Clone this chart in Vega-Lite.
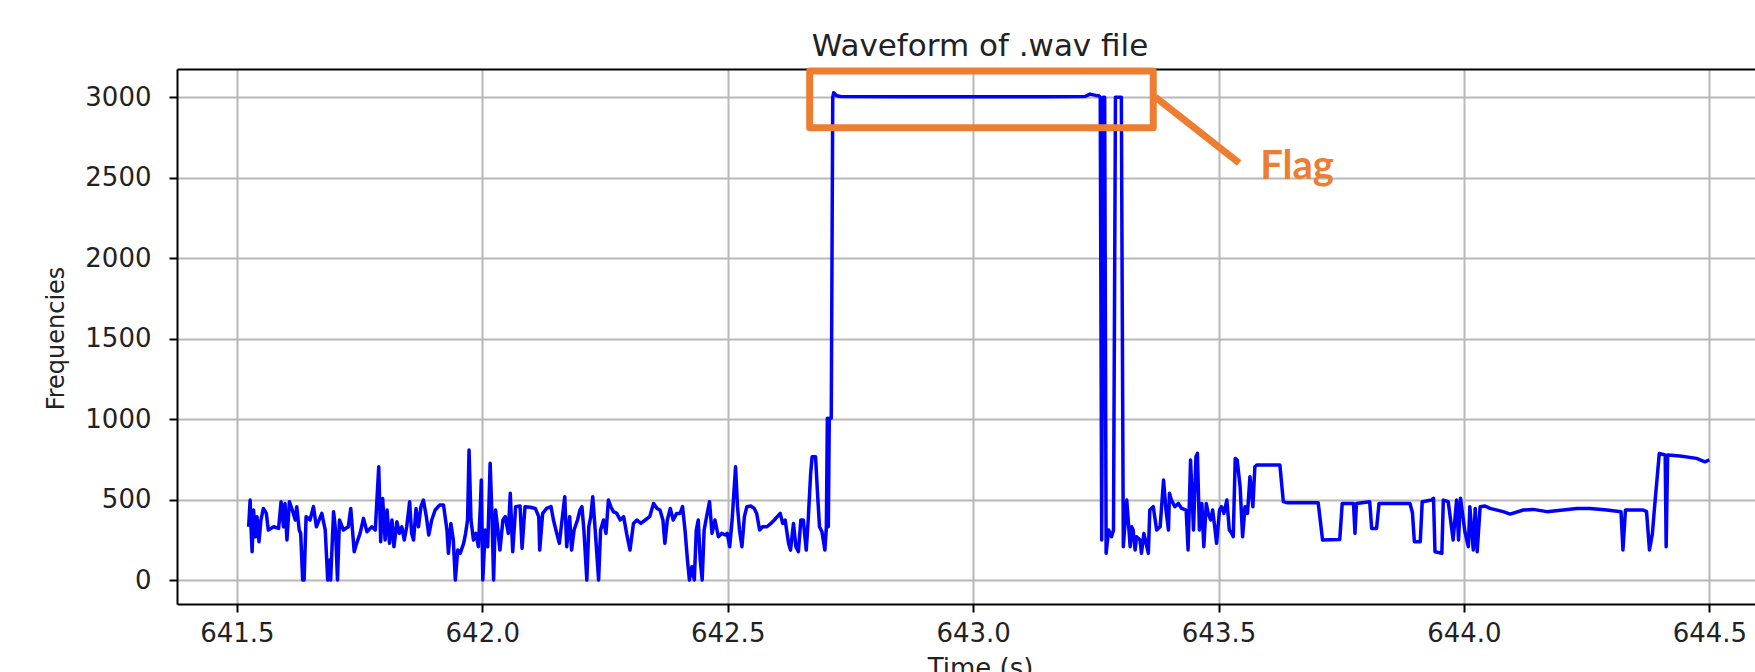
{
  "$schema": "https://vega.github.io/schema/vega-lite/v6.json",
  "width": 1578,
  "height": 535,
  "autosize": {"type": "none"},
  "padding": {"left": 177, "top": 69, "right": 0, "bottom": 68},
  "background": "white",
  "title": {"text": "Waveform of .wav file", "font": "DejaVu Sans", "fontSize": 31, "fontWeight": "normal", "color": "#222222", "anchor": "middle", "frame": "group", "baseline": "alphabetic", "offset": 14, "dx": 14, "dy": 33},
  "datasets": {
    "wave": [
      {"time": 641.524, "freq": 331}, {"time": 641.527, "freq": 497}, {"time": 641.529, "freq": 311}, {"time": 641.531, "freq": 176},
      {"time": 641.534, "freq": 435}, {"time": 641.538, "freq": 269}, {"time": 641.541, "freq": 394}, {"time": 641.545, "freq": 238},
      {"time": 641.549, "freq": 373}, {"time": 641.554, "freq": 445}, {"time": 641.560, "freq": 414}, {"time": 641.564, "freq": 311},
      {"time": 641.575, "freq": 331}, {"time": 641.585, "freq": 321}, {"time": 641.590, "freq": 487}, {"time": 641.595, "freq": 331},
      {"time": 641.598, "freq": 476}, {"time": 641.602, "freq": 249}, {"time": 641.607, "freq": 487}, {"time": 641.614, "freq": 425},
      {"time": 641.619, "freq": 373}, {"time": 641.622, "freq": 456}, {"time": 641.627, "freq": 311}, {"time": 641.630, "freq": 290},
      {"time": 641.634, "freq": 0}, {"time": 641.637, "freq": 0}, {"time": 641.641, "freq": 394}, {"time": 641.649, "freq": 373},
      {"time": 641.656, "freq": 456}, {"time": 641.662, "freq": 331}, {"time": 641.666, "freq": 362}, {"time": 641.673, "freq": 414},
      {"time": 641.680, "freq": 311}, {"time": 641.685, "freq": 0}, {"time": 641.689, "freq": 124}, {"time": 641.691, "freq": 0},
      {"time": 641.697, "freq": 425}, {"time": 641.701, "freq": 311}, {"time": 641.705, "freq": 0}, {"time": 641.709, "freq": 373},
      {"time": 641.717, "freq": 311}, {"time": 641.727, "freq": 331}, {"time": 641.732, "freq": 445}, {"time": 641.739, "freq": 176},
      {"time": 641.744, "freq": 228}, {"time": 641.751, "freq": 290}, {"time": 641.758, "freq": 383}, {"time": 641.765, "freq": 300},
      {"time": 641.775, "freq": 331}, {"time": 641.782, "freq": 311}, {"time": 641.789, "freq": 704}, {"time": 641.793, "freq": 238},
      {"time": 641.797, "freq": 507}, {"time": 641.802, "freq": 249}, {"time": 641.806, "freq": 435}, {"time": 641.811, "freq": 228},
      {"time": 641.816, "freq": 373}, {"time": 641.820, "freq": 207}, {"time": 641.826, "freq": 362}, {"time": 641.831, "freq": 290},
      {"time": 641.836, "freq": 331}, {"time": 641.841, "freq": 249}, {"time": 641.846, "freq": 331}, {"time": 641.852, "freq": 487},
      {"time": 641.856, "freq": 290}, {"time": 641.860, "freq": 249}, {"time": 641.865, "freq": 445}, {"time": 641.870, "freq": 331},
      {"time": 641.875, "freq": 456}, {"time": 641.880, "freq": 497}, {"time": 641.886, "freq": 394}, {"time": 641.891, "freq": 280},
      {"time": 641.897, "freq": 373}, {"time": 641.904, "freq": 435}, {"time": 641.913, "freq": 466}, {"time": 641.921, "freq": 466},
      {"time": 641.928, "freq": 311}, {"time": 641.931, "freq": 166}, {"time": 641.936, "freq": 352}, {"time": 641.941, "freq": 249},
      {"time": 641.945, "freq": 0}, {"time": 641.950, "freq": 186}, {"time": 641.955, "freq": 166}, {"time": 641.962, "freq": 228},
      {"time": 641.966, "freq": 290}, {"time": 641.970, "freq": 373}, {"time": 641.973, "freq": 808}, {"time": 641.977, "freq": 373},
      {"time": 641.982, "freq": 249}, {"time": 641.987, "freq": 290}, {"time": 641.992, "freq": 207}, {"time": 641.996, "freq": 456},
      {"time": 641.998, "freq": 621}, {"time": 642.001, "freq": 0}, {"time": 642.006, "freq": 311}, {"time": 642.011, "freq": 207},
      {"time": 642.016, "freq": 725}, {"time": 642.020, "freq": 373}, {"time": 642.023, "freq": 0}, {"time": 642.027, "freq": 435},
      {"time": 642.031, "freq": 331}, {"time": 642.036, "freq": 186}, {"time": 642.042, "freq": 373}, {"time": 642.047, "freq": 394},
      {"time": 642.053, "freq": 290}, {"time": 642.057, "freq": 539}, {"time": 642.062, "freq": 176}, {"time": 642.068, "freq": 456},
      {"time": 642.077, "freq": 460}, {"time": 642.081, "freq": 197}, {"time": 642.087, "freq": 456}, {"time": 642.098, "freq": 452},
      {"time": 642.108, "freq": 445}, {"time": 642.115, "freq": 394}, {"time": 642.117, "freq": 186}, {"time": 642.123, "freq": 414},
      {"time": 642.131, "freq": 445}, {"time": 642.140, "freq": 456}, {"time": 642.145, "freq": 373}, {"time": 642.150, "freq": 311},
      {"time": 642.157, "freq": 228}, {"time": 642.164, "freq": 414}, {"time": 642.168, "freq": 518}, {"time": 642.172, "freq": 207},
      {"time": 642.178, "freq": 394}, {"time": 642.182, "freq": 186}, {"time": 642.187, "freq": 311}, {"time": 642.194, "freq": 373},
      {"time": 642.199, "freq": 435}, {"time": 642.203, "freq": 456}, {"time": 642.207, "freq": 311}, {"time": 642.213, "freq": 0},
      {"time": 642.217, "freq": 331}, {"time": 642.221, "freq": 394}, {"time": 642.225, "freq": 518}, {"time": 642.230, "freq": 311},
      {"time": 642.237, "freq": 0}, {"time": 642.241, "freq": 311}, {"time": 642.247, "freq": 373}, {"time": 642.252, "freq": 290},
      {"time": 642.257, "freq": 497}, {"time": 642.262, "freq": 456}, {"time": 642.267, "freq": 425}, {"time": 642.274, "freq": 414},
      {"time": 642.281, "freq": 373}, {"time": 642.288, "freq": 394}, {"time": 642.294, "freq": 290}, {"time": 642.301, "freq": 186},
      {"time": 642.308, "freq": 352}, {"time": 642.315, "freq": 373}, {"time": 642.323, "freq": 352}, {"time": 642.332, "freq": 373},
      {"time": 642.341, "freq": 394}, {"time": 642.349, "freq": 476}, {"time": 642.356, "freq": 445}, {"time": 642.362, "freq": 435},
      {"time": 642.368, "freq": 373}, {"time": 642.372, "freq": 228}, {"time": 642.377, "freq": 373}, {"time": 642.383, "freq": 445},
      {"time": 642.389, "freq": 373}, {"time": 642.396, "freq": 414}, {"time": 642.403, "freq": 414}, {"time": 642.408, "freq": 456},
      {"time": 642.413, "freq": 311}, {"time": 642.418, "freq": 124}, {"time": 642.422, "freq": 0}, {"time": 642.427, "freq": 83},
      {"time": 642.432, "freq": 0}, {"time": 642.436, "freq": 311}, {"time": 642.440, "freq": 373}, {"time": 642.444, "freq": 124},
      {"time": 642.448, "freq": 0}, {"time": 642.452, "freq": 311}, {"time": 642.457, "freq": 394}, {"time": 642.463, "freq": 487},
      {"time": 642.468, "freq": 290}, {"time": 642.474, "freq": 373}, {"time": 642.481, "freq": 269}, {"time": 642.488, "freq": 290},
      {"time": 642.495, "freq": 280}, {"time": 642.499, "freq": 290}, {"time": 642.504, "freq": 207}, {"time": 642.509, "freq": 373},
      {"time": 642.516, "freq": 704}, {"time": 642.520, "freq": 456}, {"time": 642.524, "freq": 311}, {"time": 642.529, "freq": 207},
      {"time": 642.534, "freq": 394}, {"time": 642.539, "freq": 456}, {"time": 642.547, "freq": 460}, {"time": 642.554, "freq": 445},
      {"time": 642.559, "freq": 414}, {"time": 642.565, "freq": 311}, {"time": 642.571, "freq": 331}, {"time": 642.580, "freq": 331},
      {"time": 642.588, "freq": 352}, {"time": 642.595, "freq": 373}, {"time": 642.601, "freq": 394}, {"time": 642.607, "freq": 414},
      {"time": 642.612, "freq": 352}, {"time": 642.617, "freq": 373}, {"time": 642.624, "freq": 228}, {"time": 642.628, "freq": 186},
      {"time": 642.634, "freq": 352}, {"time": 642.639, "freq": 207}, {"time": 642.644, "freq": 176}, {"time": 642.649, "freq": 373},
      {"time": 642.654, "freq": 373}, {"time": 642.660, "freq": 186}, {"time": 642.664, "freq": 373}, {"time": 642.669, "freq": 663},
      {"time": 642.672, "freq": 766}, {"time": 642.679, "freq": 766}, {"time": 642.683, "freq": 539}, {"time": 642.687, "freq": 331},
      {"time": 642.692, "freq": 300}, {"time": 642.698, "freq": 186}, {"time": 642.701, "freq": 331}, {"time": 642.703, "freq": 1005},
      {"time": 642.705, "freq": 331}, {"time": 642.707, "freq": 1005}, {"time": 642.711, "freq": 1005}, {"time": 642.714, "freq": 3000},
      {"time": 642.716, "freq": 3029}, {"time": 642.722, "freq": 3010}, {"time": 642.730, "freq": 3005}, {"time": 642.850, "freq": 3004},
      {"time": 643.000, "freq": 3003}, {"time": 643.150, "freq": 3003}, {"time": 643.228, "freq": 3005}, {"time": 643.238, "freq": 3020},
      {"time": 643.250, "freq": 3012}, {"time": 643.256, "freq": 3010}, {"time": 643.259, "freq": 3000}, {"time": 643.262, "freq": 249},
      {"time": 643.265, "freq": 3000}, {"time": 643.268, "freq": 3000}, {"time": 643.271, "freq": 166}, {"time": 643.276, "freq": 311},
      {"time": 643.282, "freq": 269}, {"time": 643.286, "freq": 311}, {"time": 643.290, "freq": 3000}, {"time": 643.302, "freq": 3000},
      {"time": 643.306, "freq": 207}, {"time": 643.313, "freq": 497}, {"time": 643.320, "freq": 207}, {"time": 643.323, "freq": 331},
      {"time": 643.326, "freq": 311}, {"time": 643.330, "freq": 187}, {"time": 643.333, "freq": 269}, {"time": 643.340, "freq": 249},
      {"time": 643.343, "freq": 166}, {"time": 643.348, "freq": 290}, {"time": 643.354, "freq": 207}, {"time": 643.357, "freq": 166},
      {"time": 643.360, "freq": 435}, {"time": 643.367, "freq": 456}, {"time": 643.374, "freq": 311}, {"time": 643.381, "freq": 331},
      {"time": 643.388, "freq": 621}, {"time": 643.393, "freq": 435}, {"time": 643.398, "freq": 311}, {"time": 643.400, "freq": 539},
      {"time": 643.404, "freq": 497}, {"time": 643.411, "freq": 456}, {"time": 643.418, "freq": 476}, {"time": 643.425, "freq": 445},
      {"time": 643.434, "freq": 435}, {"time": 643.438, "freq": 187}, {"time": 643.443, "freq": 746}, {"time": 643.449, "freq": 311},
      {"time": 643.454, "freq": 766}, {"time": 643.457, "freq": 787}, {"time": 643.461, "freq": 311}, {"time": 643.466, "freq": 476},
      {"time": 643.470, "freq": 207}, {"time": 643.475, "freq": 476}, {"time": 643.479, "freq": 414}, {"time": 643.484, "freq": 373},
      {"time": 643.488, "freq": 435}, {"time": 643.493, "freq": 311}, {"time": 643.496, "freq": 228}, {"time": 643.502, "freq": 435},
      {"time": 643.506, "freq": 456}, {"time": 643.511, "freq": 414}, {"time": 643.517, "freq": 497}, {"time": 643.522, "freq": 311},
      {"time": 643.527, "freq": 290}, {"time": 643.530, "freq": 269}, {"time": 643.534, "freq": 756}, {"time": 643.538, "freq": 746},
      {"time": 643.544, "freq": 580}, {"time": 643.549, "freq": 269}, {"time": 643.554, "freq": 456}, {"time": 643.559, "freq": 414},
      {"time": 643.564, "freq": 642}, {"time": 643.570, "freq": 456}, {"time": 643.574, "freq": 704}, {"time": 643.578, "freq": 715},
      {"time": 643.625, "freq": 715}, {"time": 643.632, "freq": 487}, {"time": 643.639, "freq": 481}, {"time": 643.703, "freq": 481},
      {"time": 643.712, "freq": 249}, {"time": 643.747, "freq": 252}, {"time": 643.752, "freq": 476}, {"time": 643.775, "freq": 476},
      {"time": 643.778, "freq": 290}, {"time": 643.781, "freq": 476}, {"time": 643.808, "freq": 487}, {"time": 643.812, "freq": 321},
      {"time": 643.822, "freq": 321}, {"time": 643.827, "freq": 476}, {"time": 643.870, "freq": 476}, {"time": 643.890, "freq": 476},
      {"time": 643.895, "freq": 420}, {"time": 643.899, "freq": 238}, {"time": 643.911, "freq": 238}, {"time": 643.915, "freq": 487},
      {"time": 643.934, "freq": 497}, {"time": 643.938, "freq": 508}, {"time": 643.941, "freq": 176}, {"time": 643.955, "freq": 166},
      {"time": 643.958, "freq": 497}, {"time": 643.968, "freq": 487}, {"time": 643.978, "freq": 249}, {"time": 643.985, "freq": 497},
      {"time": 643.989, "freq": 249}, {"time": 643.993, "freq": 508}, {"time": 644.002, "freq": 300}, {"time": 644.009, "freq": 207},
      {"time": 644.012, "freq": 456}, {"time": 644.019, "freq": 187}, {"time": 644.023, "freq": 445}, {"time": 644.027, "freq": 176},
      {"time": 644.033, "freq": 456}, {"time": 644.043, "freq": 460}, {"time": 644.053, "freq": 445}, {"time": 644.080, "freq": 425},
      {"time": 644.094, "freq": 410}, {"time": 644.121, "freq": 435}, {"time": 644.141, "freq": 439}, {"time": 644.169, "freq": 425},
      {"time": 644.202, "freq": 435}, {"time": 644.230, "freq": 445}, {"time": 644.257, "freq": 445}, {"time": 644.291, "freq": 435},
      {"time": 644.320, "freq": 425}, {"time": 644.324, "freq": 187}, {"time": 644.329, "freq": 435}, {"time": 644.365, "freq": 435},
      {"time": 644.372, "freq": 425}, {"time": 644.378, "freq": 187}, {"time": 644.384, "freq": 290}, {"time": 644.388, "freq": 440},
      {"time": 644.398, "freq": 787}, {"time": 644.404, "freq": 782}, {"time": 644.410, "freq": 777}, {"time": 644.412, "freq": 207},
      {"time": 644.415, "freq": 777}, {"time": 644.440, "freq": 771}, {"time": 644.474, "freq": 756}, {"time": 644.491, "freq": 735},
      {"time": 644.500, "freq": 746}
    ],
    "box": [{"t1": 642.667, "t2": 643.367, "f1": 2811, "f2": 3163}],
    "arrow": [{"t1": 643.371, "f1": 3002, "t2": 643.542, "f2": 2592}],
    "label": [{"t": 643.585, "f": 2492, "text": "Flag"}]
  },
  "layer": [
    {
      "data": {"name": "wave"},
      "mark": {"type": "line", "color": "#0000ff", "strokeWidth": 3.5, "strokeJoin": "round", "clip": true},
      "encoding": {
        "x": {"field": "time", "type": "quantitative",
          "scale": {"domain": [641.378, 644.593], "nice": false, "zero": false},
          "axis": {"orient": "bottom", "values": [641.5, 642, 642.5, 643, 643.5, 644, 644.5], "format": ".1f",
            "title": "Time (s)", "titleX": 803, "titleY": 72, "titleBaseline": "alphabetic", "titleFontSize": 26,
            "labelBaseline": "alphabetic", "labelPadding": 29, "labelFlush": false, "labelOverlap": false, "grid": true}},
        "y": {"field": "freq", "type": "quantitative", "title": "Frequencies",
          "scale": {"domain": [-149, 3176], "nice": false, "zero": false},
          "axis": {"values": [0, 500, 1000, 1500, 2000, 2500, 3000], "format": "d",
            "titleX": -114, "titleY": 269, "titleAngle": 270, "titleBaseline": "alphabetic", "titleAlign": "center", "titleFontSize": 24,
            "labelPadding": 18, "labelBaseline": "middle", "labelFlush": false, "labelOverlap": false, "grid": true}}
      }
    },
    {
      "data": {"name": "box"},
      "mark": {"type": "rect", "fillOpacity": 0, "stroke": "#ED7D31", "strokeWidth": 7, "strokeJoin": "round"},
      "encoding": {
        "x": {"field": "t1", "type": "quantitative", "scale": {"domain": [641.378, 644.593], "nice": false, "zero": false},
          "axis": {"orient": "top", "labels": false, "ticks": false, "grid": false, "title": null, "domain": true}},
        "x2": {"field": "t2"},
        "y": {"field": "f1", "type": "quantitative", "title": "Frequencies", "scale": {"domain": [-149, 3176], "nice": false, "zero": false}},
        "y2": {"field": "f2"}
      }
    },
    {
      "data": {"name": "arrow"},
      "mark": {"type": "rule", "color": "#ED7D31", "strokeWidth": 7, "strokeCap": "butt"},
      "encoding": {
        "x": {"field": "t1", "type": "quantitative", "scale": {"domain": [641.378, 644.593], "nice": false, "zero": false}, "axis": null},
        "x2": {"field": "t2"},
        "y": {"field": "f1", "type": "quantitative", "title": "Frequencies", "scale": {"domain": [-149, 3176], "nice": false, "zero": false}},
        "y2": {"field": "f2"}
      }
    },
    {
      "data": {"name": "label"},
      "mark": {"type": "text", "font": "Lato", "fontWeight": "bold", "fontSize": 40, "color": "#ED7D31", "align": "left", "baseline": "alphabetic"},
      "encoding": {
        "x": {"field": "t", "type": "quantitative", "scale": {"domain": [641.378, 644.593], "nice": false, "zero": false}, "axis": null},
        "y": {"field": "f", "type": "quantitative", "title": "Frequencies", "scale": {"domain": [-149, 3176], "nice": false, "zero": false}},
        "text": {"field": "text"}
      }
    }
  ],
  "resolve": {"axis": {"x": "independent"}},
  "config": {
    "view": {"stroke": null},
    "axis": {
      "labelFont": "DejaVu Sans", "labelFontSize": 26, "labelColor": "#222222",
      "titleFont": "DejaVu Sans", "titleFontWeight": "normal", "titleColor": "#222222",
      "domainColor": "#000000", "domainWidth": 2, "tickColor": "#000000", "tickWidth": 2, "tickSize": 8,
      "gridColor": "#b8b8b8", "gridWidth": 2, "gridOpacity": 1
    }
  }
}
